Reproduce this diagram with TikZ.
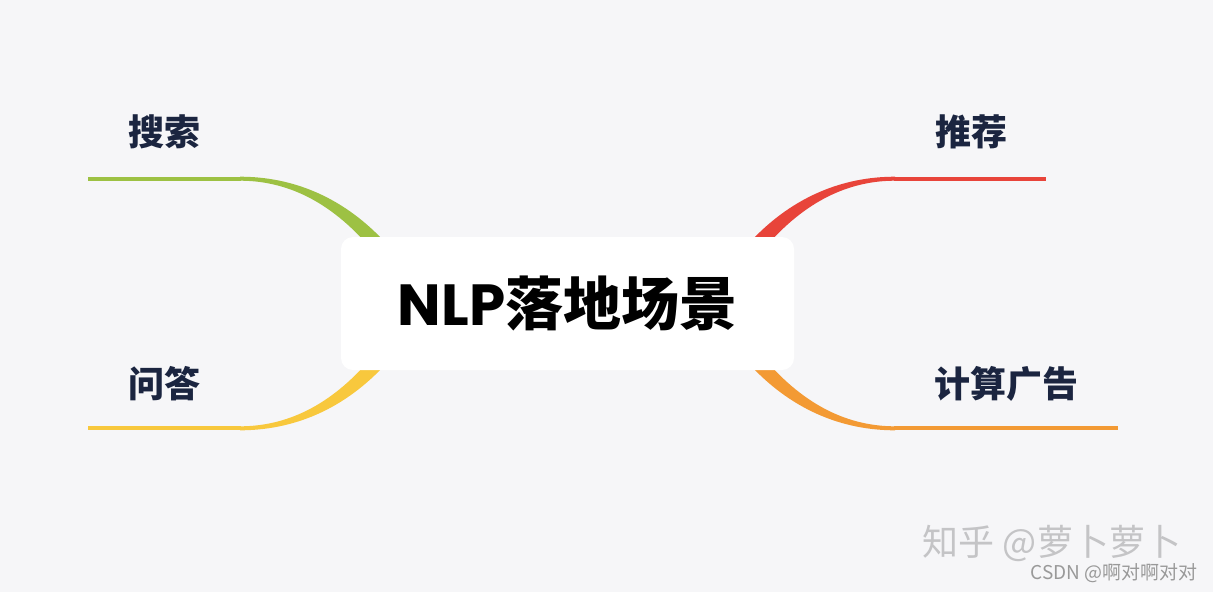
\documentclass[tikz,border=0pt]{standalone}
\usepackage{fontspec}
\setmainfont{Noto Sans CJK SC}
\newfontfamily\latinfont{Poppins}
\usepackage{tikz}

\definecolor{bgcol}{HTML}{F6F6F8}
\definecolor{labelcol}{HTML}{1B2540}
\definecolor{sgreen}{HTML}{9DC143}
\definecolor{sred}{HTML}{E8443A}
\definecolor{syellow}{HTML}{F8C83D}
\definecolor{sorange}{HTML}{F39A34}
\definecolor{markcol}{HTML}{C4C4C6}

\begin{document}
\begin{tikzpicture}[x=1pt, y=-1pt,
        root/.style={rectangle, rounded corners=12pt, fill=white, minimum width=453pt, minimum height=133pt, inner sep=0pt, text=black, font=\fontsize{58}{62}\selectfont\bfseries},
        leaf/.style={inner sep=0pt, text=labelcol, font=\fontsize{36}{40}\selectfont\bfseries},
        stem/.style={line width=4pt},
        wmark/.style={inner sep=0pt, text=markcol},
        branch/.pic={
            \fill (-327.5,-126.8) .. controls (-277.5,-126.8) and (-222.5,-108.5) .. (-175.5,-53.5)
                -- (-195.5,-53.5) .. controls (-237.5,-103.5) and (-282.5,-122.8) .. (-327.5,-122.8) -- cycle;
        }
    ]
        \useasboundingbox[fill=bgcol] (0,0) rectangle (1213,592);

        \coordinate (cen) at (567.5,303.5);

        % branch curves, hidden under the root box
        \pic[sgreen] at (cen) {branch};
        \pic[sred, xscale=-1] at (cen) {branch};
        \pic[syellow, yscale=-1] at (cen) {branch};
        \pic[sorange, xscale=-1, yscale=-1] at (cen) {branch};

        \coordinate (s0) at (88,178.7);    \coordinate (s1) at (241,178.7);
        \coordinate (r0) at (1046,178.7);  \coordinate (r1) at (894,178.7);
        \coordinate (q0) at (88,428.3);    \coordinate (q1) at (241,428.3);
        \coordinate (a0) at (1118,428.3);  \coordinate (a1) at (894,428.3);

        \draw[stem, sgreen] (s1) -- (s0);
        \draw[stem, sred] (r1) -- (r0);
        \draw[stem, syellow] (q1) -- (q0);
        \draw[stem, sorange] (a1) -- (a0);

        \node[root](root) at (cen) {{\latinfont NLP}落地场景};

        \node[leaf](search) at (164,132) {搜索};
        \node[leaf](recommend) at (971,132) {推荐};
        \node[leaf](qa) at (164,384) {问答};
        \node[leaf](ads) at (1006,384) {计算广告};

        \node[wmark, font=\fontsize{36}{40}\selectfont](zhihu) at (1052,543) {知乎 @萝卜萝卜};
        \node[wmark, text=gray!80, font=\fontsize{19}{22}\selectfont, anchor=east](csdn) at (1198,573) {CSDN @啊对啊对对};
    \end{tikzpicture}
\end{document}
